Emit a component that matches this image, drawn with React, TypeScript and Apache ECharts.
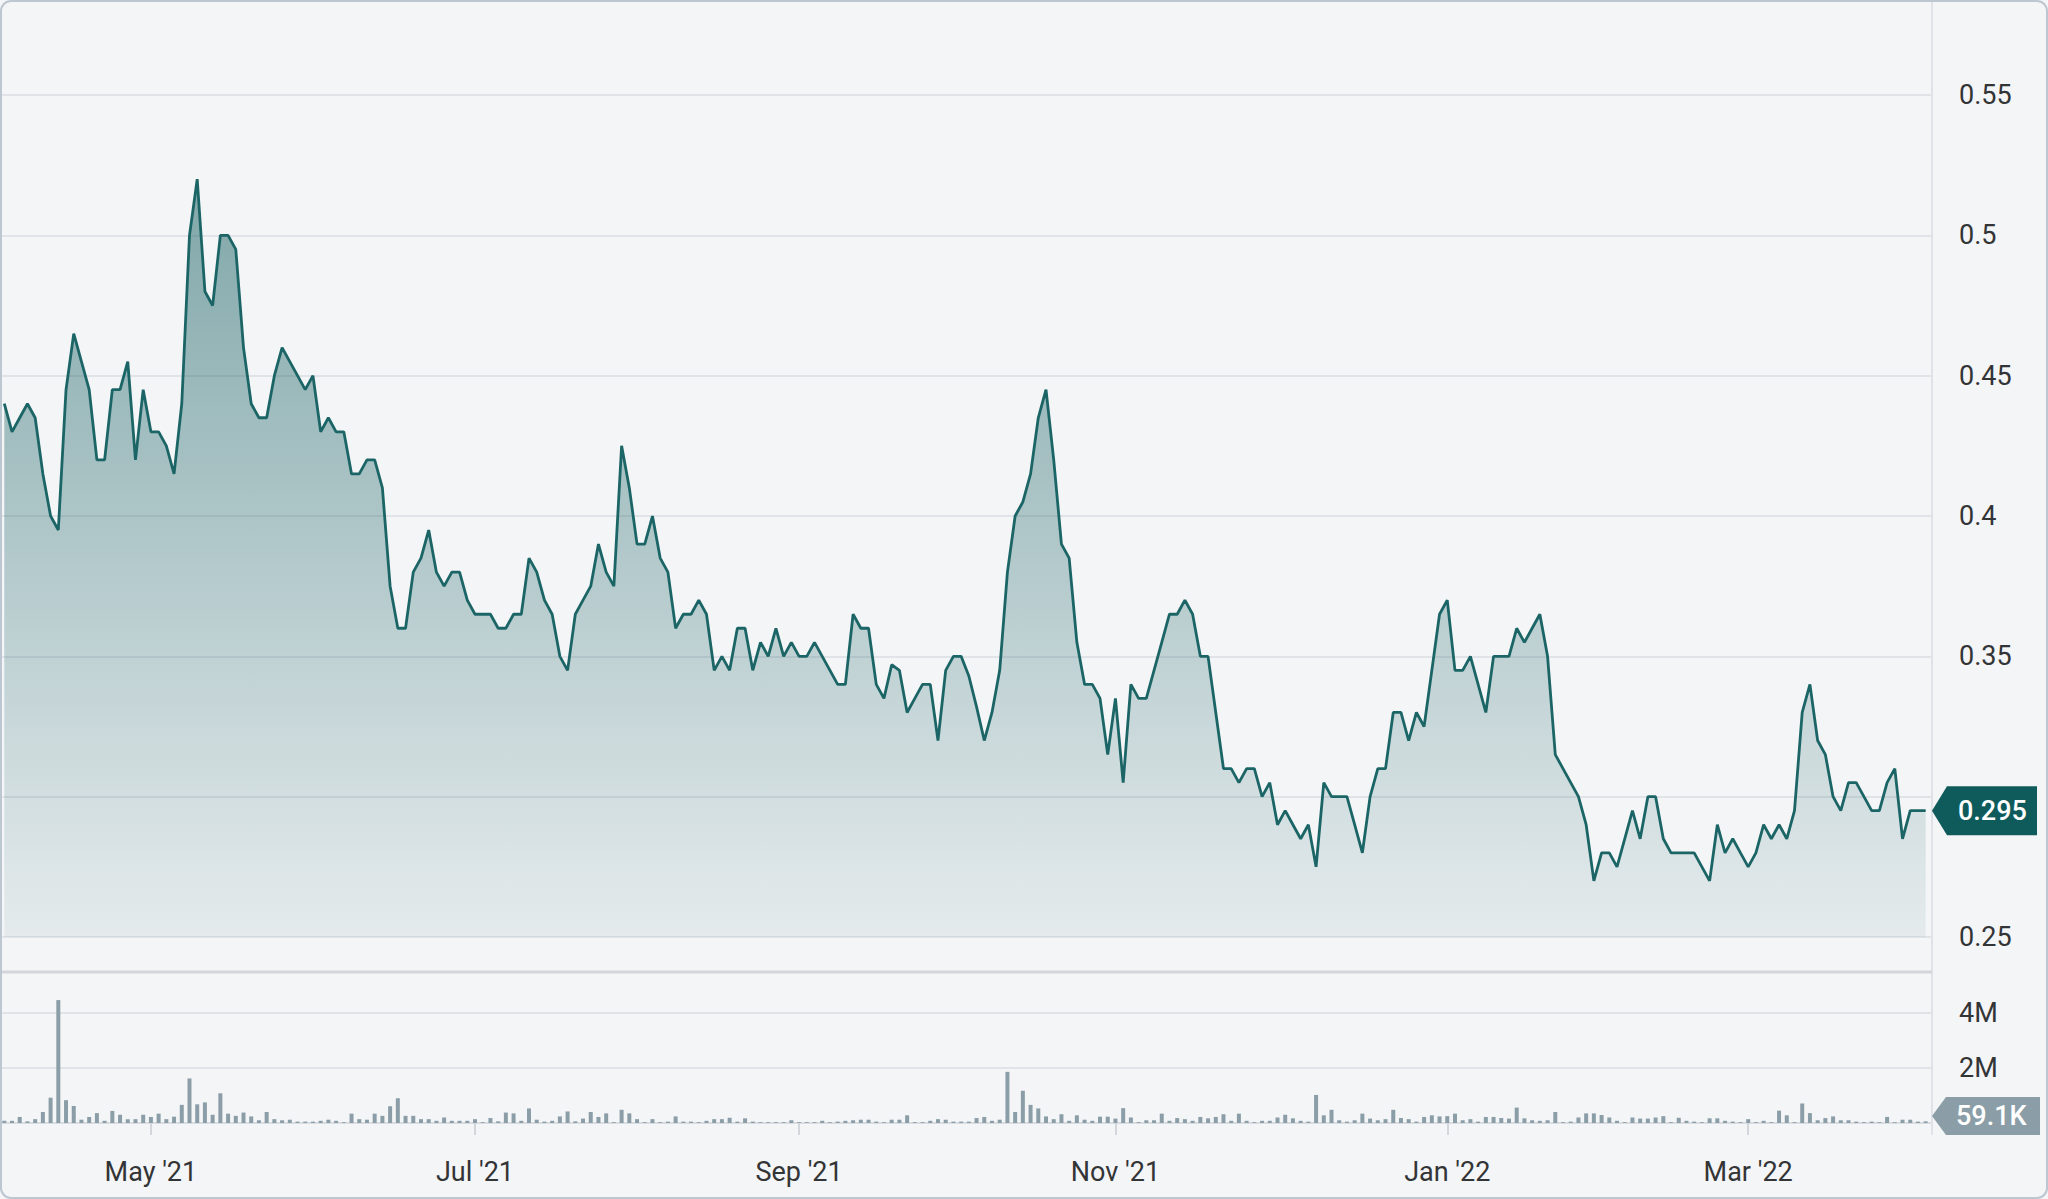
import React, { useEffect, useRef } from "react";
import * as echarts from "echarts";

// ---- Data ----
const START_DATE = "2021-04-06";
const HOLIDAYS = [
  "2021-05-24", "2021-07-01", "2021-08-02", "2021-09-06", "2021-10-11",
  "2021-12-27", "2021-12-28", "2022-01-03", "2022-02-21",
];
const MONTH_NAMES = ["Jan", "Feb", "Mar", "Apr", "May", "Jun", "Jul", "Aug", "Sep", "Oct", "Nov", "Dec"];
const LABELLED_MONTHS = [0, 2, 4, 6, 8, 10]; // Jan, Mar, May, Jul, Sep, Nov

const PRICES = [
  0.44, 0.43, 0.435, 0.44, 0.435, 0.415, 0.40, 0.395, 0.445, 0.465,
  0.455, 0.445, 0.42, 0.42, 0.445, 0.445, 0.455, 0.42, 0.445, 0.43,
  0.43, 0.425, 0.415, 0.44, 0.50, 0.52, 0.48, 0.475, 0.50, 0.50,
  0.495, 0.46, 0.44, 0.435, 0.435, 0.45, 0.46, 0.455, 0.45, 0.445,
  0.45, 0.43, 0.435,
  0.43, 0.43, 0.415, 0.415, 0.42, 0.42, 0.41, 0.375, 0.36, 0.36,
  0.38, 0.385, 0.395, 0.38, 0.375, 0.38, 0.38, 0.37, 0.365, 0.365,
  0.365, 0.36, 0.36, 0.365, 0.365, 0.385, 0.38, 0.37, 0.365, 0.35,
  0.345, 0.365, 0.37, 0.375, 0.39, 0.38, 0.375, 0.425, 0.41, 0.39,
  0.39,
  0.40, 0.385, 0.38, 0.36, 0.365, 0.365, 0.37, 0.365, 0.345, 0.35,
  0.345, 0.36, 0.36, 0.345, 0.355, 0.35, 0.36, 0.35, 0.355, 0.35,
  0.35, 0.355, 0.35, 0.345, 0.34, 0.34, 0.365, 0.36, 0.36, 0.34,
  0.335, 0.347, 0.345, 0.33, 0.335, 0.34, 0.34, 0.32, 0.345, 0.35,
  0.35,
  0.343, 0.332, 0.32, 0.33, 0.345, 0.38, 0.40, 0.405, 0.415, 0.435,
  0.445, 0.42, 0.39, 0.385, 0.355, 0.34, 0.34, 0.335, 0.315, 0.335,
  0.305, 0.34, 0.335, 0.335, 0.345, 0.355, 0.365, 0.365, 0.37, 0.365,
  0.35, 0.35, 0.33, 0.31, 0.31, 0.305, 0.31, 0.31, 0.30, 0.305,
  0.29, 0.295,
  0.29, 0.285, 0.29, 0.275, 0.305, 0.30, 0.30, 0.30, 0.29, 0.28,
  0.30, 0.31, 0.31, 0.33, 0.33, 0.32, 0.33, 0.325, 0.345, 0.365,
  0.37, 0.345, 0.345, 0.35, 0.34, 0.33, 0.35, 0.35, 0.35, 0.36,
  0.355, 0.36, 0.365, 0.35, 0.315, 0.31, 0.305, 0.30, 0.29, 0.27,
  0.28, 0.28,
  0.275, 0.285, 0.295, 0.285, 0.30, 0.30, 0.285, 0.28, 0.28, 0.28,
  0.28, 0.275, 0.27, 0.29, 0.28, 0.285, 0.28, 0.275, 0.28, 0.29,
  0.285, 0.29, 0.285, 0.295, 0.33, 0.34, 0.32, 0.315, 0.30, 0.295,
  0.305, 0.305, 0.30, 0.295, 0.295, 0.305, 0.31, 0.285, 0.295, 0.295,
  0.295,
];

// volume in thousands of shares
const VOLUMES_K = [
  80, 80, 220, 60, 140, 400, 920, 4470, 830, 620,
  120, 220, 360, 80, 440, 300, 140, 140, 300, 220,
  340, 140, 230, 660, 1620, 680, 750, 300, 1080, 340,
  260, 380, 240, 100, 400, 140, 100, 120, 50, 50,
  50, 80, 120, 80, 30, 340, 140, 120, 340, 260,
  610, 900, 260, 260, 140, 140, 80, 200, 80, 80,
  80, 140, 30, 180, 60, 380, 350, 80, 530, 120,
  50, 80, 240, 420, 60, 160, 400, 220, 350, 30,
  480, 350, 140, 30, 140, 30, 50, 240, 50, 50,
  30, 80, 140, 140, 190, 50, 170, 50, 30, 30,
  30, 30, 100, 30, 30, 30, 80, 30, 50, 80,
  100, 120, 120, 50, 30, 120, 120, 280, 30, 30,
  80, 140, 120, 50, 50, 50, 180, 220, 80, 120,
  1860, 400, 1170, 660, 530, 240, 140, 320, 80, 280,
  120, 80, 230, 230, 160, 540, 200, 30, 100, 100,
  340, 80, 180, 140, 80, 220, 170, 220, 320, 80,
  340, 80, 30, 80, 80, 200, 300, 170, 80, 50,
  1020, 280, 480, 100, 50, 100, 340, 160, 100, 140,
  480, 180, 140, 50, 220, 280, 240, 250, 340, 100,
  140, 50, 220, 220, 180, 160, 560, 170, 100, 80,
  100, 400, 30, 50, 200, 350, 350, 290, 200, 80,
  30, 200, 160, 160, 200, 250, 30, 190, 80, 50,
  30, 170, 170, 80, 50, 30, 140, 30, 80, 30,
  450, 280, 30, 710, 360, 100, 180, 240, 100, 100,
  50, 30, 50, 30, 220, 30, 120, 120, 50, 59.1,
];

const PRICE_MIN = 0.25;
const PRICE_MAX = 0.55;
const PRICE_STEP = 0.05;
const VOL_MAX = 4e6;
const VOL_STEP = 2e6;

// ---- helpers ----
function tradingDays(start: string, n: number, holidays: string[]): Date[] {
  const out: Date[] = [];
  const hs = new Set(holidays);
  const d = new Date(start + "T00:00:00Z");
  while (out.length < n) {
    const dow = d.getUTCDay();
    const iso = d.toISOString().slice(0, 10);
    if (dow !== 0 && dow !== 6 && !hs.has(iso)) out.push(new Date(d.getTime()));
    d.setUTCDate(d.getUTCDate() + 1);
  }
  return out;
}

const DATES = tradingDays(START_DATE, PRICES.length, HOLIDAYS);
const TICK_INDEX: number[] = [];
const TICK_LABEL: Record<number, string> = {};
DATES.forEach((d, i) => {
  if (i === 0) return;
  const prev = DATES[i - 1];
  if (d.getUTCMonth() !== prev.getUTCMonth() && LABELLED_MONTHS.includes(d.getUTCMonth())) {
    TICK_INDEX.push(i);
    TICK_LABEL[i] = `${MONTH_NAMES[d.getUTCMonth()]} '${String(d.getUTCFullYear()).slice(2)}`;
  }
});

export default function App() {
  const ref = useRef<HTMLDivElement>(null);

  useEffect(() => {
    document.body.style.margin = "0";
    if (!ref.current) return;
    const chart = echarts.init(ref.current, undefined, { renderer: "svg" });

    const PLOT_LEFT = 0;
    const PLOT_RIGHT = 1932;
    const X_MIN = -0.557;
    const X_MAX = PRICES.length - 1 + 0.82;
    const font = "Roboto";
    const labelColor = "#333436";
    const lastPrice = PRICES[PRICES.length - 1];
    const lastVolK = VOLUMES_K[VOLUMES_K.length - 1];

    const option: any = {
      animation: false,
      backgroundColor: "#f4f5f7",
      textStyle: { fontFamily: font },
      grid: [
        { left: PLOT_LEFT, width: PLOT_RIGHT - PLOT_LEFT, top: 95, height: 842 },
        { left: PLOT_LEFT, width: PLOT_RIGHT - PLOT_LEFT, top: 1013, height: 110 },
      ],
      xAxis: [
        { type: "value", gridIndex: 0, min: X_MIN, max: X_MAX, show: false },
        {
          type: "value",
          gridIndex: 1,
          min: X_MIN,
          max: X_MAX,
          offset: 12,
          axisLine: { show: true, lineStyle: { color: "#d9dce1", width: 2 } },
          axisTick: {
            show: true,
            customValues: TICK_INDEX,
            length: 12,
            lineStyle: { color: "#d3d6db", width: 2 },
          },
          axisLabel: {
            customValues: TICK_INDEX,
            formatter: (v: number) => TICK_LABEL[Math.round(v)] || "",
            fontSize: 27,
            color: labelColor,
            fontFamily: font,
            margin: 23,
          },
          splitLine: { show: false },
        },
      ],
      yAxis: [
        {
          type: "value",
          gridIndex: 0,
          position: "right",
          min: PRICE_MIN,
          max: PRICE_MAX,
          interval: PRICE_STEP,
          axisLine: { show: false },
          axisTick: { show: false },
          axisLabel: {
            margin: 27,
            fontSize: 27,
            color: labelColor,
            fontFamily: font,
            align: "left",
            // the last-price tag covers the label that sits under it
            formatter: (v: number) =>
              Math.abs(v - lastPrice) < PRICE_STEP * 0.25 ? "" : String(+v.toFixed(3)),
          },
          splitLine: { lineStyle: { color: "#e0e3e8", width: 2 } },
        },
        {
          type: "value",
          gridIndex: 1,
          position: "right",
          min: 0,
          max: VOL_MAX,
          interval: VOL_STEP,
          axisLine: { show: false },
          axisTick: { show: false },
          axisLabel: {
            margin: 27,
            fontSize: 27,
            color: labelColor,
            fontFamily: font,
            align: "left",
            formatter: (v: number) => (v === 0 ? "" : `${v / 1e6}M`),
          },
          splitLine: { lineStyle: { color: "#e0e3e8", width: 2 } },
        },
      ],
      series: [
        {
          type: "line",
          xAxisIndex: 0,
          yAxisIndex: 0,
          data: PRICES.map((v, i) => [i, v]),
          symbol: "none",
          lineStyle: { color: "#1c6566", width: 2.8 },
          areaStyle: {
            opacity: 1,
            color: new echarts.graphic.LinearGradient(0, 0, 0, 1, [
              { offset: 0, color: "rgba(29,100,102,0.54)" },
              { offset: 1, color: "rgba(29,100,102,0.07)" },
            ]),
          },
          z: 3,
        },
        {
          type: "bar",
          xAxisIndex: 1,
          yAxisIndex: 1,
          data: VOLUMES_K.map((v, i) => [i, v * 1000]),
          barWidth: 4,
          clip: false,
          itemStyle: { color: "#8b9ea8" },
        },
      ],
    };
    chart.setOption(option);

    // markers placed through the axes
    const py = chart.convertToPixel({ yAxisIndex: 0 } as any, lastPrice) as number;
    const vyRaw = chart.convertToPixel({ yAxisIndex: 1 } as any, lastVolK * 1000) as number;
    const vh = 38;
    const vy = Math.min(vyRaw, 1135 - vh / 2);
    const ph = 49;

    chart.setOption({
      graphic: [
        {
          type: "line",
          shape: { x1: PLOT_RIGHT, y1: 0, x2: PLOT_RIGHT, y2: 1135 },
          style: { stroke: "#dfe2e7", lineWidth: 2 },
          z: 1,
          silent: true,
        },
        {
          type: "rect",
          shape: { x: 0, y: 970.5, width: PLOT_RIGHT, height: 3 },
          style: { fill: "#d2d5da" },
          z: 1,
          silent: true,
        },
        {
          type: "polygon",
          shape: {
            points: [
              [PLOT_RIGHT, py],
              [PLOT_RIGHT + 15, py - ph / 2],
              [2037, py - ph / 2],
              [2037, py + ph / 2],
              [PLOT_RIGHT + 15, py + ph / 2],
            ],
          },
          style: { fill: "#0f5b5c" },
          z: 10,
        },
        {
          type: "text",
          x: 1958,
          y: py,
          style: {
            text: lastPrice.toFixed(3),
            fill: "#ffffff",
            font: `500 27px ${font}`,
            verticalAlign: "middle",
            align: "left",
          },
          z: 11,
        },
        {
          type: "polygon",
          shape: {
            points: [
              [PLOT_RIGHT, vy],
              [PLOT_RIGHT + 14, vy - vh / 2],
              [2040, vy - vh / 2],
              [2040, vy + vh / 2],
              [PLOT_RIGHT + 14, vy + vh / 2],
            ],
          },
          style: { fill: "#8b9ea8" },
          z: 10,
        },
        {
          type: "text",
          x: 1956,
          y: vy,
          style: {
            text: `${lastVolK.toFixed(1)}K`,
            fill: "#ffffff",
            font: `500 27px ${font}`,
            verticalAlign: "middle",
            align: "left",
          },
          z: 11,
        },
        {
          type: "rect",
          shape: { x: 1, y: 1, width: 2046, height: 1197, r: 10 },
          style: { fill: "none", stroke: "#bcc7d2", lineWidth: 2 },
          z: 20,
          silent: true,
        },
      ],
    });

    return () => chart.dispose();
  }, []);

  return <div ref={ref} style={{ width: 2048, height: 1199 }} />;
}
